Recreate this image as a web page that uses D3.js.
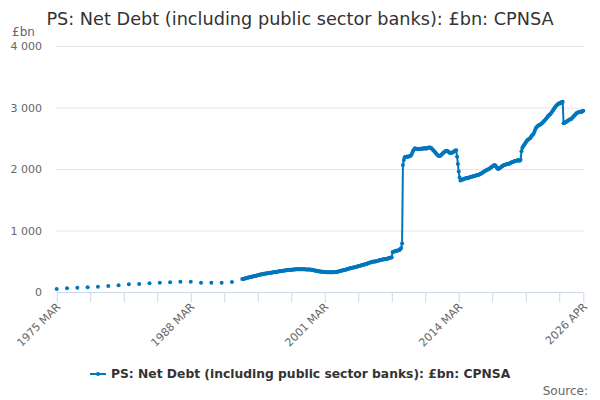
<!DOCTYPE html>
<html>
<head>
<meta charset="utf-8">
<script src="https://cdn.jsdelivr.net/npm/d3@7"></script>
<style>
  body { margin: 0; background: #fff; }
  svg { font-family: "DejaVu Sans", Verdana, sans-serif; }
</style>
</head>
<body>
<svg id="chart" width="600" height="400"></svg>
<script>
// annual figures, March of each year
var annualYears = [1975,1976,1977,1978,1979,1980,1981,1982,1983,1984,1985,1986,1987,1988,1989,1990,1991,1992];
var annualValues = [49,60,70,76,87,98,108,125,130,141,152,157,168,168,152,152,152,163];

// monthly figures from 1993 MAR to 2026 APR
var monthlyStart = "1993-03";
var monthlyValues = [
  210,213,217,220,224,227,231,234,238,241,                      // 1993 Mar-Dec
  245,248,252,255,259,262,266,269,273,276,280,283,              // 1994
  286,289,293,295,297,299,301,304,306,308,311,313,              // 1995
  315,318,320,322,325,327,329,331,334,336,338,340,              // 1996
  342,344,347,349,351,353,356,357,359,360,361,362,              // 1997
  363,364,366,367,368,369,369,370,370,370,369,369,              // 1998
  369,369,368,368,367,367,366,365,365,364,362,360,              // 1999
  358,354,351,348,345,342,339,337,335,333,331,330,              // 2000
  329,327,325,324,322,321,320,320,320,320,321,322,              // 2001
  322,323,324,326,328,331,334,337,341,344,348,352,              // 2002
  355,357,361,365,369,373,378,385,388,392,395,399,              // 2003
  400,403,407,410,414,418,423,428,432,436,440,445,              // 2004
  446,450,454,458,465,471,477,480,483,487,490,494,              // 2005
  494,497,500,503,508,514,520,522,524,527,530,533,              // 2006
  532,535,538,542,548,553,558,560,562,650,656,660,              // 2007
  662,670,672,675,678,683,700,715,790,2065,2146,2190,           // 2008
  2195,2200,2205,2200,2205,2210,2215,2230,2270,2300,2320,2336,  // 2009
  2330,2325,2320,2325,2330,2325,2330,2335,2330,2335,2340,2335,  // 2010
  2330,2340,2345,2350,2345,2350,2340,2325,2310,2295,2281,2265,  // 2011
  2245,2230,2220,2212,2211,2220,2235,2250,2265,2275,2285,2292,  // 2012
  2298,2290,2280,2270,2262,2260,2265,2272,2280,2290,2300,2305,  // 2013
  2200,2080,1960,1860,1815,1820,1825,1832,1838,1843,1848,1852,  // 2014
  1850,1855,1860,1865,1870,1875,1878,1882,1885,1890,1895,1900,  // 2015
  1902,1908,1912,1919,1928,1935,1945,1955,1962,1970,1980,1988,  // 2016
  1990,2000,2010,2020,2030,2040,2050,2060,2065,2050,2030,2010,  // 2017
  1998,2010,2020,2030,2040,2050,2060,2065,2070,2075,2080,2082,  // 2018
  2085,2090,2095,2105,2110,2115,2120,2125,2130,2135,2140,2145,  // 2019
  2140,2135,2150,2290,2340,2370,2390,2410,2430,2455,2470,2480,  // 2020
  2490,2500,2520,2540,2555,2570,2600,2640,2670,2685,2700,2710,  // 2021
  2715,2725,2735,2745,2760,2775,2790,2805,2820,2840,2860,2875,  // 2022
  2885,2900,2920,2940,2960,2980,3000,3020,3035,3050,3060,3070,  // 2023
  3065,3080,3090,3095,2745,2750,2760,2765,2775,2785,2795,2805,  // 2024
  2810,2815,2830,2845,2860,2875,2890,2905,2915,2920,2925,2930,  // 2025
  2935,2925,2940,2948                                           // 2026 Jan-Apr
];

var yTicks = [0, 1000, 2000, 3000, 4000];
var xTickLabels = ["1975 MAR", "1988 MAR", "2001 MAR", "2014 MAR", "2026 APR"];
var seriesName = "PS: Net Debt (including public sector banks): £bn: CPNSA";
var titleText = "PS: Net Debt (including public sector banks): £bn: CPNSA";

var blue = "#0076bd";
var parseMonth = d3.timeParse("%Y-%m");
var fmtLabel = function(d) { return d3.timeFormat("%Y")(d) + " " + d3.timeFormat("%b")(d).toUpperCase(); };

var annual = annualYears.map(function(yr, i) { return { date: new Date(yr, 2, 1), value: annualValues[i] }; });
var m0 = parseMonth(monthlyStart);
var monthly = monthlyValues.map(function(v, i) { return { date: d3.timeMonth.offset(m0, i), value: v }; });

var svg = d3.select("#chart");
var plotLeft = 56.7, plotRight = 583.3, plotTop = 46, plotBottom = 292;

var start = new Date(1975, 2, 1), end = new Date(2026, 3, 1);
var x = d3.scaleTime().domain([start, end]).range([plotLeft, plotRight]);
var y = d3.scaleLinear().domain([0, 4000]).range([plotBottom, plotTop]);

// title
svg.append("text")
  .attr("x", 300).attr("y", 25)
  .attr("text-anchor", "middle")
  .style("font-size", "17.7px").style("fill", "#333")
  .text(titleText);

// y axis title
svg.append("text")
  .attr("x", 12).attr("y", 36)
  .style("font-size", "12px").style("fill", "#666")
  .text("£bn");

// gridlines
svg.append("g").selectAll("line")
  .data(yTicks.filter(function(d) { return d > 0; }))
  .enter().append("line")
  .attr("x1", plotLeft).attr("x2", plotRight)
  .attr("y1", function(d) { return y(d) + 0.5; }).attr("y2", function(d) { return y(d) + 0.5; })
  .attr("stroke", "#e6e6e6");

// y labels
var fmtY = function(d) { return d3.format(",")(d).replace(",", " "); };
svg.append("g").selectAll("text")
  .data(yTicks)
  .enter().append("text")
  .attr("x", 42).attr("y", function(d) { return y(d) + 4; })
  .attr("text-anchor", "end")
  .style("font-size", "11px").style("fill", "#666")
  .text(fmtY);

// x axis: ticks every 39 months plus the end
var tickDates = d3.range(0, 613, 39).map(function(i) { return d3.timeMonth.offset(start, i); });
tickDates.push(end);
var xAxis = d3.axisBottom(x)
  .tickValues(tickDates)
  .tickSize(10)
  .tickFormat(function(d) { var s = fmtLabel(d); return xTickLabels.indexOf(s) >= 0 ? s : ""; });

var gx = svg.append("g").attr("transform", "translate(0," + (plotBottom + 0.5) + ")").call(xAxis);
gx.select(".domain").attr("stroke", "#ccd6eb").attr("d", "M" + plotLeft + ",0H" + plotRight);
gx.selectAll(".tick line").attr("stroke", "#ccd6eb");
gx.selectAll(".tick text")
  .style("font-size", "11px").style("fill", "#666")
  .style("font-family", "DejaVu Sans, Verdana, sans-serif")
  .attr("text-anchor", "end")
  .attr("dy", null).attr("y", 0)
  .attr("transform", "translate(4,15) rotate(-45)");

// line for monthly part
var line = d3.line()
  .x(function(d) { return x(d.date); })
  .y(function(d) { return y(d.value); });

svg.append("path")
  .datum(monthly)
  .attr("fill", "none")
  .attr("stroke", blue)
  .attr("stroke-width", 2)
  .attr("stroke-linejoin", "round")
  .attr("d", line);

// markers
svg.append("g").selectAll("circle")
  .data(annual.concat(monthly))
  .enter().append("circle")
  .attr("cx", function(d) { return x(d.date); })
  .attr("cy", function(d) { return y(d.value); })
  .attr("r", 2)
  .attr("fill", blue);

// legend
var lg = svg.append("g");
lg.append("line").attr("x1", 90).attr("x2", 106).attr("y1", 374).attr("y2", 374)
  .attr("stroke", blue).attr("stroke-width", 2);
lg.append("circle").attr("cx", 98).attr("cy", 374).attr("r", 2).attr("fill", blue);
lg.append("text")
  .attr("x", 111).attr("y", 378)
  .style("font-size", "12.3px").style("font-weight", "bold").style("fill", "#333")
  .text(seriesName);

// credits
svg.append("text")
  .attr("x", 588).attr("y", 395)
  .attr("text-anchor", "end")
  .style("font-size", "12px").style("fill", "#666")
  .text("Source:");
</script>
</body>
</html>
